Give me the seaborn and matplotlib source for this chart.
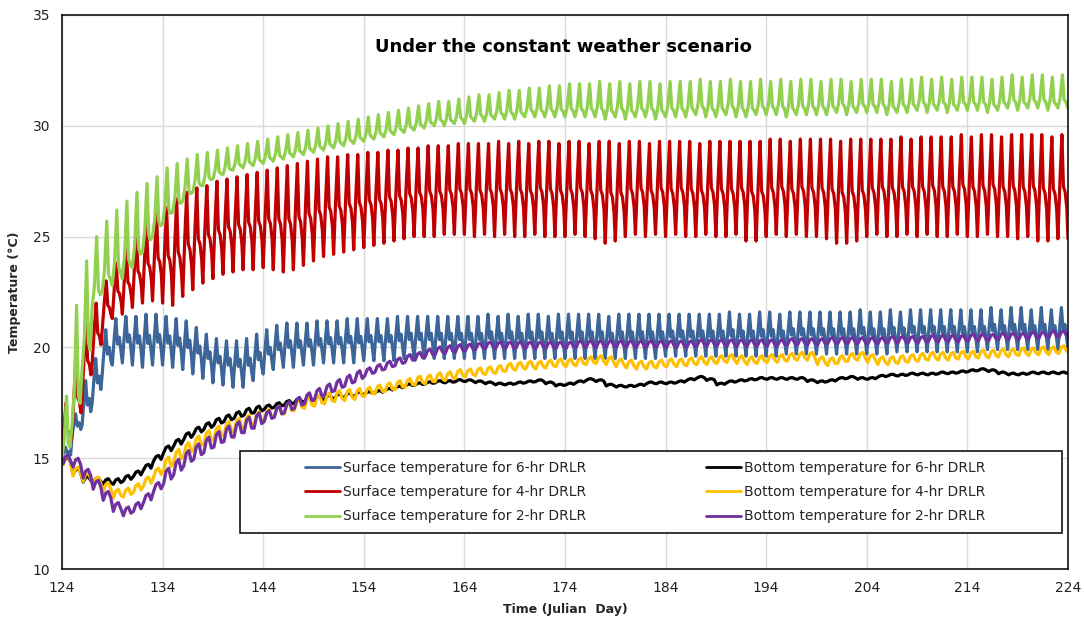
import matplotlib
matplotlib.use("Agg")
import matplotlib.pyplot as plt
from matplotlib.patches import Rectangle
from matplotlib.ticker import FixedLocator, MultipleLocator
import pandas as pd
import seaborn as sns

# Julian days covered by the simulation (one entry per day)
DAYS = list(range(124, 224))
START_TEMP = 15.0
X_TICKS = list(range(124, 225, 10))

# Surface temperature: daily minimum / maximum (°C)
green_lo = [15.0, 16.5, 19.0, 21.8, 22.5, 22.8, 23.1, 23.6, 24.3, 25.0,
            25.6, 26.1, 26.6, 27.0, 27.3, 27.6, 27.8, 28.0, 28.1, 28.2,
            28.3, 28.4, 28.5, 28.6, 28.7, 28.8, 28.9, 29.0, 29.1, 29.2,
            29.3, 29.4, 29.5, 29.6, 29.7, 29.8, 29.9, 30.0, 30.0, 30.1,
            30.1, 30.2, 30.2, 30.3, 30.3, 30.3, 30.4, 30.4, 30.4, 30.4,
            30.4, 30.4, 30.4, 30.4, 30.3, 30.4, 30.3, 30.4, 30.4, 30.3,
            30.4, 30.4, 30.4, 30.5, 30.4, 30.4, 30.5, 30.4, 30.4, 30.5,
            30.5, 30.5, 30.4, 30.5, 30.5, 30.5, 30.5, 30.6, 30.5, 30.6,
            30.6, 30.6, 30.5, 30.6, 30.6, 30.7, 30.6, 30.7, 30.6, 30.7,
            30.7, 30.7, 30.6, 30.7, 30.8, 30.7, 30.8, 30.8, 30.7, 30.8]
green_hi = [17.8, 21.9, 23.9, 25.0, 25.7, 26.2, 26.6, 27.0, 27.4, 27.7,
            28.1, 28.3, 28.5, 28.7, 28.8, 28.9, 29.0, 29.1, 29.2, 29.3,
            29.4, 29.5, 29.6, 29.7, 29.8, 29.9, 30.0, 30.1, 30.2, 30.3,
            30.4, 30.5, 30.6, 30.7, 30.8, 30.9, 31.0, 31.1, 31.1, 31.2,
            31.3, 31.4, 31.4, 31.5, 31.6, 31.6, 31.7, 31.7, 31.8, 31.8,
            31.9, 31.9, 31.9, 32.0, 31.9, 32.0, 31.9, 32.0, 32.0, 31.9,
            32.0, 32.0, 32.0, 32.1, 32.0, 32.0, 32.1, 32.0, 32.0, 32.1,
            32.0, 32.1, 32.0, 32.1, 32.1, 32.0, 32.1, 32.1, 32.0, 32.1,
            32.1, 32.1, 32.0, 32.1, 32.1, 32.2, 32.1, 32.2, 32.1, 32.2,
            32.2, 32.2, 32.1, 32.2, 32.3, 32.2, 32.3, 32.3, 32.2, 32.3]

red_lo = [15.0, 16.0, 17.8, 19.3, 20.8, 21.3, 21.5, 21.8, 22.0, 22.1,
          22.0, 21.9, 22.3, 22.6, 22.9, 23.1, 23.3, 23.4, 23.5, 23.5,
          23.6, 23.5, 23.4, 23.5, 23.7, 23.9, 24.1, 24.2, 24.3, 24.4,
          24.5, 24.6, 24.7, 24.8, 24.9, 25.0, 25.0, 25.0, 25.1, 25.1,
          25.1, 25.0, 25.1, 25.0, 25.1, 25.0, 25.0, 25.1, 25.0, 25.0,
          25.0, 25.1, 25.0, 24.9, 24.7, 24.8, 25.0, 25.1, 25.0, 25.1,
          25.0, 25.1, 25.0, 25.0, 25.1, 25.0, 25.0, 25.1, 24.8, 24.8,
          25.0, 25.1, 25.0, 25.1, 25.0, 25.0, 24.9, 24.7, 24.7, 24.8,
          25.0, 25.1, 25.0, 25.0, 25.1, 25.0, 25.1, 25.0, 25.0, 25.1,
          25.0, 25.0, 25.1, 25.0, 25.0, 24.9, 25.0, 24.8, 24.8, 24.9]
red_hi = [17.5, 19.5, 21.0, 22.0, 23.0, 23.8, 24.4, 25.1, 25.6, 26.0,
          26.3, 26.7, 27.0, 27.2, 27.3, 27.5, 27.6, 27.7, 27.8, 27.9,
          28.0, 28.1, 28.2, 28.3, 28.4, 28.5, 28.6, 28.6, 28.7, 28.7,
          28.8, 28.8, 28.9, 28.9, 29.0, 29.0, 29.1, 29.1, 29.1, 29.2,
          29.2, 29.2, 29.2, 29.3, 29.2, 29.3, 29.2, 29.3, 29.3, 29.2,
          29.3, 29.3, 29.2, 29.3, 29.3, 29.2, 29.3, 29.3, 29.2, 29.3,
          29.3, 29.3, 29.3, 29.2, 29.3, 29.3, 29.3, 29.3, 29.3, 29.3,
          29.4, 29.4, 29.3, 29.4, 29.4, 29.4, 29.4, 29.3, 29.4, 29.4,
          29.4, 29.4, 29.4, 29.5, 29.4, 29.5, 29.5, 29.5, 29.5, 29.6,
          29.5, 29.6, 29.6, 29.5, 29.6, 29.6, 29.6, 29.6, 29.5, 29.6]

blue_lo = [15.0, 16.0, 16.5, 17.5, 18.8, 19.2, 19.3, 19.2, 19.1, 19.2,
           19.2, 19.1, 19.0, 18.8, 18.6, 18.4, 18.3, 18.2, 18.2, 18.5,
           18.8, 19.0, 19.1, 19.1, 19.2, 19.2, 19.3, 19.3, 19.3, 19.3,
           19.4, 19.4, 19.4, 19.4, 19.5, 19.5, 19.5, 19.5, 19.5, 19.5,
           19.5, 19.5, 19.5, 19.5, 19.5, 19.5, 19.5, 19.5, 19.5, 19.5,
           19.5, 19.5, 19.5, 19.5, 19.5, 19.5, 19.5, 19.5, 19.5, 19.5,
           19.6, 19.6, 19.6, 19.6, 19.6, 19.6, 19.6, 19.6, 19.6, 19.6,
           19.6, 19.6, 19.7, 19.7, 19.7, 19.7, 19.7, 19.7, 19.7, 19.7,
           19.7, 19.7, 19.7, 19.8, 19.8, 19.8, 19.8, 19.8, 19.8, 19.8,
           19.8, 19.8, 19.9, 19.9, 19.9, 19.9, 19.9, 19.9, 19.9, 19.9]
blue_hi = [15.5, 17.0, 18.5, 19.5, 20.8, 21.3, 21.4, 21.4, 21.5, 21.5,
           21.4, 21.3, 21.2, 20.9, 20.6, 20.4, 20.3, 20.3, 20.4, 20.6,
           20.8, 21.0, 21.1, 21.1, 21.1, 21.2, 21.2, 21.2, 21.3, 21.3,
           21.3, 21.3, 21.3, 21.4, 21.4, 21.4, 21.4, 21.4, 21.4, 21.4,
           21.4, 21.4, 21.5, 21.4, 21.5, 21.4, 21.5, 21.5, 21.4, 21.5,
           21.5, 21.5, 21.5, 21.5, 21.4, 21.5, 21.5, 21.5, 21.5, 21.5,
           21.5, 21.5, 21.5, 21.5, 21.5, 21.5, 21.6, 21.5, 21.5, 21.6,
           21.6, 21.5, 21.6, 21.6, 21.6, 21.6, 21.6, 21.6, 21.6, 21.7,
           21.6, 21.6, 21.7, 21.6, 21.7, 21.7, 21.7, 21.7, 21.7, 21.7,
           21.7, 21.7, 21.8, 21.7, 21.8, 21.8, 21.7, 21.8, 21.7, 21.8]

# Bottom temperature: daily mean (°C)
black_mid = [14.9, 14.4, 14.05, 14.0, 13.95, 13.95, 14.1, 14.3, 14.6, 15.0,
             15.4, 15.7, 16.0, 16.25, 16.45, 16.65, 16.8, 16.95, 17.1, 17.2,
             17.3, 17.4, 17.5, 17.6, 17.65, 17.7, 17.75, 17.8, 17.85, 17.9,
             17.95, 18.0, 18.1, 18.2, 18.3, 18.35, 18.4, 18.45, 18.45, 18.5,
             18.5, 18.45, 18.4, 18.35, 18.35, 18.4, 18.45, 18.5, 18.4, 18.3,
             18.35, 18.45, 18.55, 18.5, 18.3, 18.25, 18.25, 18.3, 18.4, 18.4,
             18.4, 18.45, 18.55, 18.65, 18.55, 18.35, 18.45, 18.5, 18.55, 18.6,
             18.6, 18.6, 18.6, 18.6, 18.5, 18.45, 18.5, 18.6, 18.65, 18.6,
             18.6, 18.7, 18.75, 18.75, 18.8, 18.8, 18.8, 18.85, 18.85, 18.9,
             18.95, 19.0, 18.95, 18.85, 18.8, 18.8, 18.85, 18.85, 18.85, 18.85]
yellow_mid = [14.9, 14.4, 14.15, 13.95, 13.7, 13.4, 13.45, 13.65, 13.95, 14.35,
              14.75, 15.1, 15.4, 15.7, 15.95, 16.15, 16.35, 16.5, 16.65, 16.8,
              16.95, 17.1, 17.25, 17.4, 17.5, 17.6, 17.7, 17.8, 17.85, 17.9,
              18.0, 18.1, 18.2, 18.3, 18.4, 18.5, 18.55, 18.65, 18.7, 18.8,
              18.85, 18.9, 18.95, 19.0, 19.1, 19.15, 19.2, 19.2, 19.25, 19.3,
              19.3, 19.35, 19.4, 19.45, 19.4, 19.3, 19.25, 19.2, 19.2, 19.25,
              19.3, 19.3, 19.35, 19.4, 19.4, 19.45, 19.5, 19.45, 19.4, 19.45,
              19.5, 19.5, 19.55, 19.6, 19.6, 19.4, 19.35, 19.45, 19.55, 19.6,
              19.5, 19.4, 19.4, 19.45, 19.5, 19.55, 19.6, 19.6, 19.6, 19.65,
              19.65, 19.7, 19.7, 19.75, 19.75, 19.8, 19.8, 19.85, 19.85, 19.9]
purple_mid = [14.95, 14.8, 14.3, 13.8, 13.3, 12.8, 12.6, 12.8, 13.2, 13.7,
              14.2, 14.6, 15.0, 15.3, 15.6, 15.85, 16.1, 16.3, 16.5, 16.7,
              16.9, 17.1, 17.3, 17.5, 17.7, 17.9, 18.1, 18.3, 18.5, 18.7,
              18.9, 19.05, 19.2, 19.35, 19.5, 19.6, 19.75, 19.85, 19.9, 19.95,
              20.0, 20.05, 20.1, 20.1, 20.1, 20.1, 20.1, 20.1, 20.1, 20.1,
              20.1, 20.15, 20.15, 20.15, 20.15, 20.15, 20.15, 20.15, 20.15, 20.15,
              20.15, 20.15, 20.15, 20.2, 20.2, 20.2, 20.2, 20.2, 20.2, 20.2,
              20.2, 20.2, 20.25, 20.25, 20.25, 20.25, 20.3, 20.3, 20.3, 20.3,
              20.3, 20.3, 20.35, 20.35, 20.35, 20.35, 20.4, 20.4, 20.4, 20.4,
              20.45, 20.45, 20.45, 20.5, 20.5, 20.5, 20.55, 20.55, 20.6, 20.6]

# Daily swing of the bottom temperature, per 10-day block (°C, peak to peak)
black_swing = [0.25, 0.3, 0.2, 0.1, 0.08, 0.08, 0.08, 0.08, 0.08, 0.08]
yellow_swing = [0.4, 0.6, 0.5, 0.4, 0.35, 0.35, 0.35, 0.35, 0.35, 0.35]
purple_swing = [0.4, 0.7, 0.5, 0.35, 0.3, 0.3, 0.3, 0.3, 0.3, 0.3]

# Shape of one daily cycle (time-of-day fraction, relative level)
GREEN_CYCLE = ([0.0, 0.22, 0.45, 0.62, 0.80], [0.0, 0.3, 1.0, 0.25, 0.18])
RED_CYCLE = ([0.0, 0.22, 0.40, 0.55, 0.72, 0.88], [0.0, 0.6, 1.0, 0.5, 0.45, 0.3])
BLUE_CYCLE = ([0.0, 0.18, 0.35, 0.52, 0.70, 0.86], [0.0, 0.55, 1.0, 0.45, 0.6, 0.3])
BOTTOM_CYCLE = ([0.1, 0.35, 0.6, 0.85], [-0.5, 0.3, 0.5, -0.2])

LABELS = ["Surface temperature for 6-hr DRLR", "Bottom temperature for 6-hr DRLR",
          "Surface temperature for 4-hr DRLR", "Bottom temperature for 4-hr DRLR",
          "Surface temperature for 2-hr DRLR", "Bottom temperature for 2-hr DRLR"]
COLORS = ["#3C6699", "#000000", "#C00000", "#FFC000", "#92D050", "#7030A0"]


def surface_trace(lo, hi, cycle):
    fracs, shape = cycle
    t, v = [], []
    for d, a, b in zip(DAYS, lo, hi):
        for f, s in zip(fracs, shape):
            t.append(d + f)
            v.append(a + (b - a) * s)
    t.append(DAYS[-1] + 1)
    v.append(lo[-1])
    return t, v


def bottom_trace(mid, swing, cycle):
    fracs, shape = cycle
    t, v = [DAYS[0]], [START_TEMP]
    for i, (d, m) in enumerate(zip(DAYS, mid)):
        sw = swing[i // 10]
        for f, s in zip(fracs, shape):
            t.append(d + f)
            v.append(m + sw * s)
    t.append(DAYS[-1] + 1)
    v.append(mid[-1])
    return t, v


traces = [
    surface_trace(blue_lo, blue_hi, BLUE_CYCLE),
    bottom_trace(black_mid, black_swing, BOTTOM_CYCLE),
    surface_trace(red_lo, red_hi, RED_CYCLE),
    bottom_trace(yellow_mid, yellow_swing, BOTTOM_CYCLE),
    surface_trace(green_lo, green_hi, GREEN_CYCLE),
    bottom_trace(purple_mid, purple_swing, BOTTOM_CYCLE),
]

frames = []
for label, (t, v) in zip(LABELS, traces):
    frames.append(pd.DataFrame({"day": t, "temp": v, "series": label}))
df = pd.concat(frames, ignore_index=True)

sns.set_style("white")
plt.rcParams["font.family"] = ["DejaVu Sans"]

fig = plt.figure(figsize=(10.84, 6.24), dpi=100)
ax = fig.add_axes([0.0572, 0.0881, 0.9280, 0.8879])

sns.lineplot(data=df, x="day", y="temp", hue="series", hue_order=LABELS,
             palette=COLORS, estimator=None, sort=False, linewidth=2.3,
             legend=False, ax=ax)

ax.set_xlim(124, 224)
ax.set_ylim(10, 35)
ax.xaxis.set_major_locator(FixedLocator(X_TICKS))
ax.xaxis.set_minor_locator(MultipleLocator(2))
ax.yaxis.set_major_locator(MultipleLocator(5))
ax.yaxis.set_minor_locator(MultipleLocator(1))
ax.grid(True, which="major", color="#D9D9D9", linewidth=1.0)
ax.set_axisbelow(True)
for sp in ax.spines.values():
    sp.set_visible(True)
    sp.set_color("black")
    sp.set_linewidth(1.1)
ax.tick_params(which="major", direction="out", length=5, width=1.1,
               labelsize=10, colors="black")
ax.tick_params(which="minor", direction="in", length=4, width=1.0, colors="black")
for lab in ax.get_xticklabels() + ax.get_yticklabels():
    lab.set_color("#222222")

ax.set_xlabel("Time (Julian  Day)", fontsize=9, fontweight="bold", labelpad=6)
ax.set_ylabel("Temperature (°C)", fontsize=9, fontweight="bold", labelpad=8)

ax.text(0.498, 0.942, "Under the constant weather scenario", transform=ax.transAxes,
        ha="center", va="center", fontsize=13, fontweight="bold", color="black")

# Legend box and entries
ax.add_patch(Rectangle((0.177, 0.065), 0.817, 0.148, transform=ax.transAxes,
                       facecolor="white", edgecolor="black", linewidth=1.1, zorder=4))
lines = ax.get_lines()[:6]
order = [0, 2, 4, 1, 3, 5]
leg = ax.legend([lines[i] for i in order], [LABELS[i] for i in order],
                ncol=2, loc="center left", bbox_to_anchor=(0.2416, 0.139),
                frameon=False, fontsize=10, handlelength=2.5, handletextpad=0.25,
                columnspacing=8.6, labelspacing=0.75, borderpad=0, borderaxespad=0)
leg.set_zorder(5)
for h in leg.get_lines():
    h.set_linewidth(2.0)

fig.savefig("out.png", dpi=100)
